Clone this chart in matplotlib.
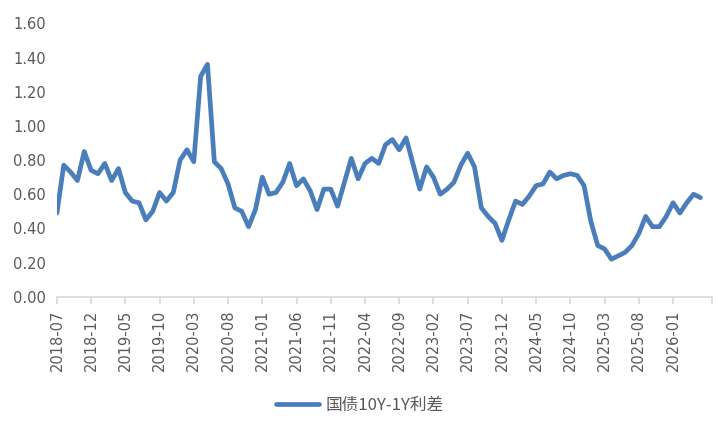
import matplotlib
matplotlib.use('Agg')
import matplotlib.pyplot as plt
import pandas as pd

plt.rcParams['font.family'] = ['Noto Sans CJK SC', 'DejaVu Sans']

# 国债10Y-1Y利差, monthly, 2018-07 .. 2026-05
months = pd.period_range('2018-07', periods=95, freq='M').strftime('%Y-%m').tolist()
spread = [
    0.49, 0.77, 0.73, 0.68, 0.85, 0.74, 0.72, 0.78, 0.68, 0.75,
    0.61, 0.56, 0.55, 0.45, 0.50, 0.61, 0.56, 0.61, 0.80, 0.86,
    0.79, 1.29, 1.36, 0.79, 0.75, 0.66, 0.52, 0.50, 0.41, 0.51,
    0.70, 0.60, 0.61, 0.67, 0.78, 0.65, 0.69, 0.62, 0.51, 0.63,
    0.63, 0.53, 0.67, 0.81, 0.69, 0.78, 0.81, 0.78, 0.89, 0.92,
    0.86, 0.93, 0.78, 0.63, 0.76, 0.70, 0.60, 0.63, 0.67, 0.77,
    0.84, 0.76, 0.52, 0.47, 0.43, 0.33, 0.45, 0.56, 0.54, 0.59,
    0.65, 0.66, 0.73, 0.69, 0.71, 0.72, 0.71, 0.65, 0.44, 0.30,
    0.28, 0.22, 0.24, 0.26, 0.30, 0.37, 0.47, 0.41, 0.41, 0.47,
    0.55, 0.49, 0.55, 0.60, 0.58,
]
yticks = [0.0, 0.2, 0.4, 0.6, 0.8, 1.0, 1.2, 1.4, 1.6]

fig = plt.figure(figsize=(7.2, 4.32), dpi=100)
ax = fig.add_axes([0.079, 0.313, 0.910, 0.633])

x = list(range(len(spread)))
ax.plot(x, spread, color='#4a7ebb', linewidth=3.4, label='国债10Y-1Y利差',
        solid_joinstyle='round', solid_capstyle='round')

ax.set_ylim(0, 1.6)
ax.set_yticks(yticks)
ax.set_yticklabels(['%.2f' % v for v in yticks], fontsize=10.5, color='#595959',
                   family='DejaVu Sans')
ax.set_xlim(0, 95.7)
tick_pos = list(range(0, len(months), 5))
ax.set_xticks(tick_pos + [95.7])
ax.set_xticklabels([months[i] for i in tick_pos] + [''], rotation=90,
                   fontsize=10.5, color='#595959', family='DejaVu Sans')

for s in ['top', 'right', 'left']:
    ax.spines[s].set_visible(False)
ax.spines['bottom'].set_color('#d9d9d9')
ax.spines['bottom'].set_linewidth(1.2)
ax.tick_params(axis='y', length=0, pad=8)
ax.tick_params(axis='x', length=5, width=1.2, color='#d9d9d9', pad=4)

fig.legend(loc='center', bbox_to_anchor=(0.5, 0.062), frameon=False,
           fontsize=12, handlelength=2.6, handletextpad=0.4, labelcolor='#595959')

fig.savefig('out.png', dpi=100)
